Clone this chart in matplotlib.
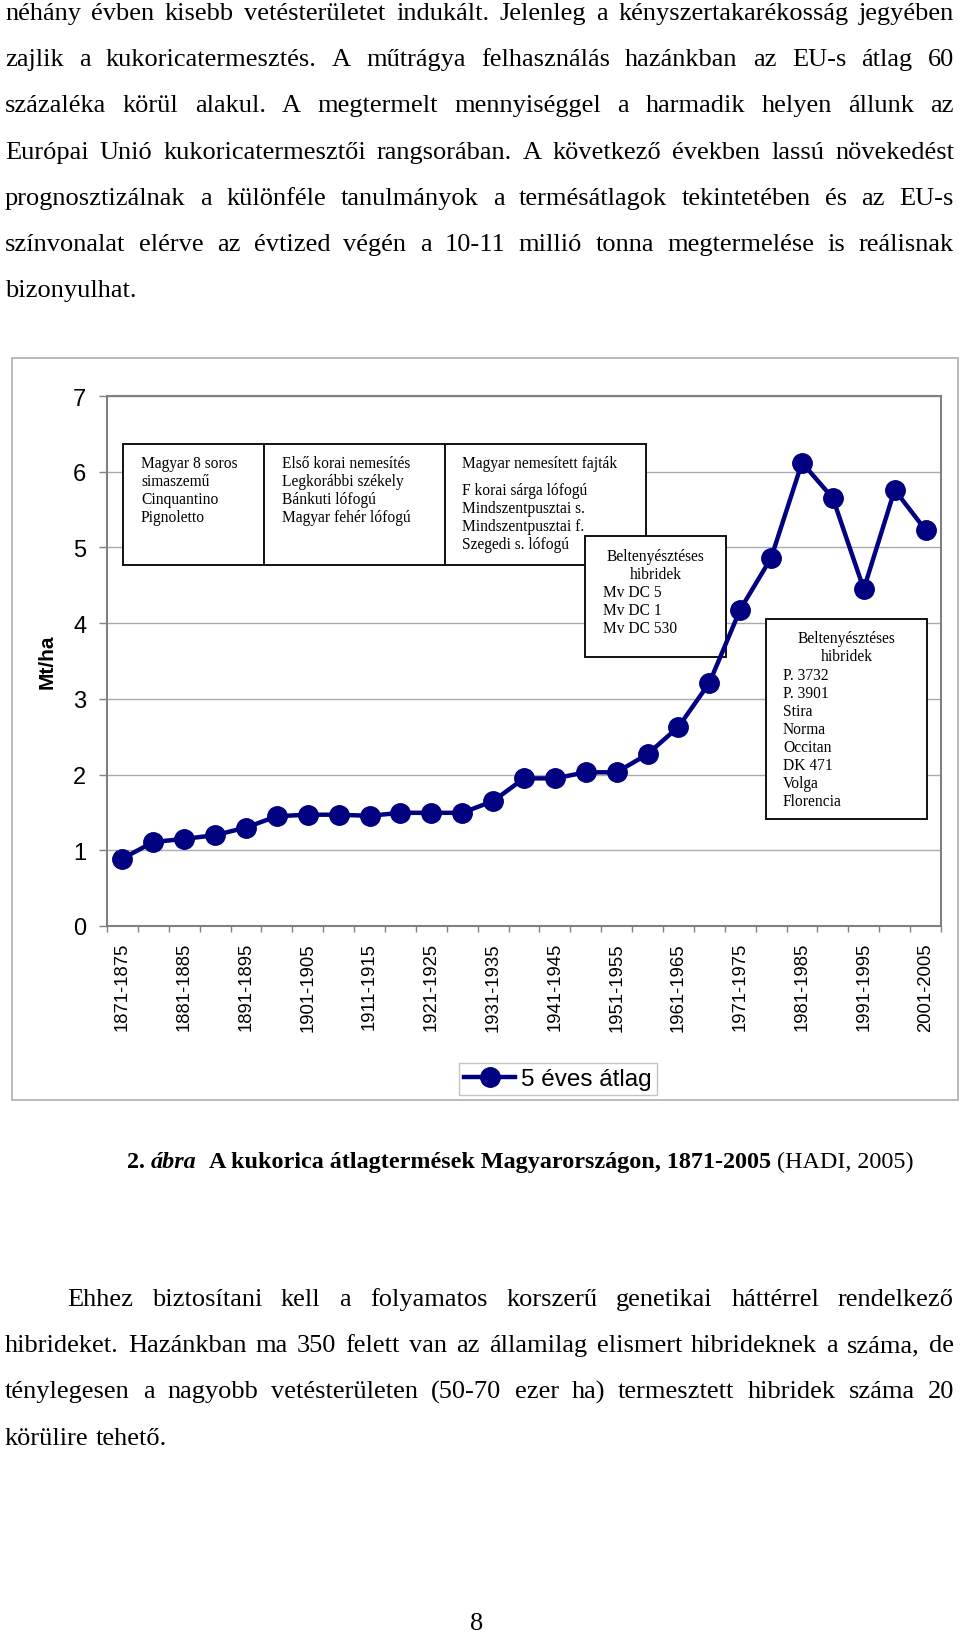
import matplotlib
matplotlib.use("Agg")
import matplotlib.pyplot as plt
from matplotlib.patches import Rectangle

W, H = 960, 1633

# chart data
periods = ["1871-1875", "1876-1880", "1881-1885", "1886-1890", "1891-1895",
           "1896-1900", "1901-1905", "1906-1910", "1911-1915", "1916-1920",
           "1921-1925", "1926-1930", "1931-1935", "1936-1940", "1941-1945",
           "1946-1950", "1951-1955", "1956-1960", "1961-1965", "1966-1970",
           "1971-1975", "1976-1980", "1981-1985", "1986-1990", "1991-1995",
           "1996-2000", "2001-2005"]
yields = [0.89, 1.11, 1.15, 1.20, 1.30, 1.45, 1.47, 1.47, 1.455, 1.495,
          1.495, 1.495, 1.65, 1.95, 1.95, 2.03, 2.03, 2.27, 2.63, 3.21,
          4.18, 4.86, 6.12, 5.65, 4.45, 5.76, 5.23]
y_ticks = [0, 1, 2, 3, 4, 5, 6, 7]
series_label = "5 éves átlag"
y_title = "Mt/ha"

# page text
text_top = [
    "néhány évben kisebb vetésterületet indukált. Jelenleg a kényszertakarékosság jegyében",
    "zajlik a kukoricatermesztés. A műtrágya felhasználás hazánkban az EU-s átlag 60",
    "százaléka körül alakul. A megtermelt mennyiséggel a harmadik helyen állunk az",
    "Európai Unió kukoricatermesztői rangsorában. A következő években lassú növekedést",
    "prognosztizálnak a különféle tanulmányok a termésátlagok tekintetében és az EU-s",
    "színvonalat elérve az évtized végén a 10-11 millió tonna megtermelése is reálisnak",
    "bizonyulhat.",
]
text_bottom = [
    "Ehhez biztosítani kell a folyamatos korszerű genetikai háttérrel rendelkező",
    "hibrideket. Hazánkban ma 350 felett van az államilag elismert hibrideknek a száma, de",
    "ténylegesen a nagyobb vetésterületen (50-70 ezer ha) termesztett hibridek száma 20",
    "körülire tehető.",
]
caption = [("2.", "bold", "normal"), ("ábra", "bold", "italic"),
           ("A kukorica átlagtermések Magyarországon, 1871-2005", "bold", "normal"),
           ("(HADI, 2005)", "normal", "normal")]
page_no = "8"

box1 = ["Magyar 8 soros", "simaszemű", "Cinquantino", "Pignoletto"]
box2 = ["Első korai nemesítés", "Legkorábbi székely", "Bánkuti lófogú", "Magyar fehér lófogú"]
box3 = ["Magyar nemesített fajták", "F korai sárga lófogú", "Mindszentpusztai s.",
        "Mindszentpusztai f.", "Szegedi s. lófogú"]
box4_head = ["Beltenyésztéses", "hibridek"]
box4 = ["Mv DC 5", "Mv DC 1", "Mv DC 530"]
box5_head = ["Beltenyésztéses", "hibridek"]
box5 = ["P. 3732", "P. 3901", "Stira", "Norma", "Occitan", "DK 471", "Volga", "Florencia"]

SERIF = "Liberation Serif"
SANS = "Liberation Sans"
NAVY = "#000080"


def fx(x):
    return x / W


def fy(y):
    return 1 - y / H


fig = plt.figure(figsize=(W / 100, H / 100), dpi=100)
fig.patch.set_facecolor("white")
renderer = fig.canvas.get_renderer()


def put_line(line, x0, x1, base, justify, size=19):
    words = line.split()
    arts = [fig.text(0, fy(base), w, fontsize=size, family=SERIF,
                     ha="left", va="baseline") for w in words]
    widths = [a.get_window_extent(renderer).width for a in arts]
    if justify and len(words) > 1:
        gap = (x1 - x0 - sum(widths)) / (len(words) - 1)
    else:
        gap = 0.25 * size * 100 / 72
    x = x0
    for a, wd in zip(arts, widths):
        a.set_x(fx(x))
        x += wd + gap


for i, line in enumerate(text_top):
    put_line(line, 5, 954, 20 + i * 46.2, justify=i < len(text_top) - 1)

for i, line in enumerate(text_bottom):
    x0 = 67 if i == 0 else 5
    put_line(line, x0, 954, 1306 + i * 46.2, justify=i < len(text_bottom) - 1)

# caption
cap_size = 17.4
cap_arts = [fig.text(0, fy(1168), s, fontsize=cap_size, family=SERIF, fontweight=wt,
                     fontstyle=st, ha="left", va="baseline") for s, wt, st in caption]
cap_w = [a.get_window_extent(renderer).width for a in cap_arts]
sp = 0.25 * cap_size * 100 / 72
gaps = [sp, 2 * sp, sp]
total = sum(cap_w) + sum(gaps)
x = 520 - total / 2
for k, (a, wd) in enumerate(zip(cap_arts, cap_w)):
    a.set_x(fx(x))
    x += wd + (gaps[k] if k < len(gaps) else 0)

fig.text(fx(477), fy(1630), page_no, fontsize=19, family=SERIF, ha="center", va="baseline")

# chart area frame
fig.add_artist(Rectangle((fx(12), fy(1101)), (958 - 12) / W, (1101 - 359) / H,
                         transform=fig.transFigure, fill=False,
                         edgecolor="#b4b4b4", lw=1.3))

ax = fig.add_axes([fx(107), fy(927), (941 - 107) / W, (927 - 397) / H])
xs = list(range(len(periods)))
line, = ax.plot(xs, yields, color=NAVY, lw=3.2, marker="o", markersize=14,
                markerfacecolor=NAVY, markeredgecolor=NAVY, zorder=6,
                label=series_label, clip_on=False)

ax.set_xlim(-0.5, len(periods) - 0.5)
ax.set_ylim(0, 7)
ax.set_yticks(y_ticks)
ax.set_yticklabels([str(v) for v in y_ticks], family=SANS, fontsize=17)
ax.set_xticks(xs[::2])
ax.set_xticklabels(periods[::2], rotation=90, family=SANS, fontsize=13.3,
                   va="top", ha="center")
ax.set_xticks([v - 0.5 for v in range(len(periods) + 1)], minor=True)
ax.tick_params(axis="x", which="major", length=0, pad=11.5)
ax.tick_params(axis="x", which="minor", length=4.3, width=1, color="#808080")
ax.tick_params(axis="y", which="major", length=5.8, width=1, color="#808080", pad=9)
ax.yaxis.grid(True, color="#ababab", lw=1.0)
ax.set_axisbelow(True)
for s in ax.spines.values():
    s.set_color("#808080")
    s.set_linewidth(1.5)

fig.text(fx(47), fy(662), y_title, rotation=90, fontweight="bold", family=SANS,
         fontsize=15, ha="center", va="center")

# annotation boxes (page pixel layout)
def box(x0, y0, x1, y1):
    ax.add_patch(Rectangle((fx(x0), fy(y1)), (x1 - x0) / W, (y1 - y0) / H,
                           transform=fig.transFigure, facecolor="white",
                           edgecolor="#111111", lw=1.4, zorder=4, clip_on=False))


def box_text(lines, x, bases, ha="left"):
    for ln, b in zip(lines, bases):
        ax.text(fx(x), fy(b), ln, transform=fig.transFigure, family=SERIF,
                fontsize=11.2, ha=ha, va="baseline", zorder=5, clip_on=False)


box(123, 445, 264, 566)
box(264, 445, 445, 566)
box(445, 445, 646, 566)
box(585, 537, 726, 658)
box(766, 620, 927, 820)

box_text(box1, 141, [468 + 18 * i for i in range(4)])
box_text(box2, 282, [468 + 18 * i for i in range(4)])
box_text(box3, 462, [468] + [495 + 18 * i for i in range(4)])
box_text(box4_head, 655.5, [561, 579], ha="center")
box_text(box4, 603, [597 + 18 * i for i in range(3)])
box_text(box5_head, 846.5, [643, 661.5], ha="center")
box_text(box5, 783, [680 + 18 * i for i in range(8)])

leg = fig.legend(handles=[line], loc="center", bbox_to_anchor=(fx(558), fy(1080)),
                 frameon=True, fancybox=False, edgecolor="#b4b4b4",
                 prop={"family": SANS, "size": 17.5}, handlelength=2.1,
                 borderpad=0.2, handletextpad=0.25, borderaxespad=0, numpoints=1)
leg.get_frame().set_linewidth(1.0)

fig.savefig("out.png", dpi=100, facecolor="white")
